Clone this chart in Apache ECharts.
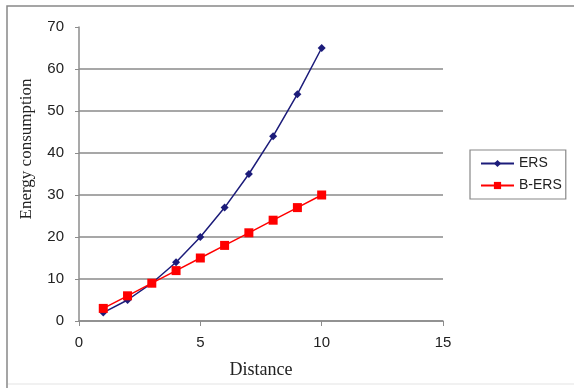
<!DOCTYPE html>
<html>
<head>
<meta charset="utf-8">
<script src="https://cdn.jsdelivr.net/npm/echarts@6/dist/echarts.min.js"></script>
<style>
  html, body { margin: 0; padding: 0; background: #fff; }
  #chart { width: 574px; height: 388px; }
</style>
</head>
<body>
<div id="chart"></div>
<script>
// distance values on the x axis
const distance = [1, 2, 3, 4, 5, 6, 7, 8, 9, 10]
const ersValues = [2, 5, 9, 14, 20, 27, 35, 44, 54, 65]
const bersValues = [3, 6, 9, 12, 15, 18, 21, 24, 27, 30]

const chart = echarts.init(document.getElementById('chart'))

const axisGray = '#8c8c8c'
const tickFont = { fontFamily: 'Liberation Sans, Arial', fontSize: 15, color: '#222' }

chart.setOption({
  animation: false,
  backgroundColor: '#fff',
  graphic: [
    {
      type: 'rect',
      shape: { x: 7, y: 6, width: 600, height: 400 },
      style: { fill: 'none', stroke: '#888', lineWidth: 1.5 },
      silent: true
    },
    {
      type: 'line',
      shape: { x1: 8, y1: 384, x2: 574, y2: 384 },
      style: { stroke: '#ececec', lineWidth: 1.5 },
      silent: true
    }
  ],
  grid: { left: 79, right: 131, top: 27, bottom: 67, containLabel: false },
  legend: {
    orient: 'vertical',
    left: 470,
    top: 150,
    padding: [5, 4, 5, 10],
    itemGap: 5,
    itemWidth: 33,
    itemHeight: 9,
    borderColor: '#888',
    borderWidth: 1.2,
    backgroundColor: '#fff',
    textStyle: { fontFamily: 'Liberation Sans, Arial', fontSize: 14, color: '#222', lineHeight: 17 },
    data: ['ERS', 'B-ERS']
  },
  xAxis: {
    type: 'value',
    min: 0,
    max: 15,
    interval: 5,
    name: 'Distance',
    nameLocation: 'middle',
    nameGap: 40,
    nameTextStyle: { fontFamily: 'Liberation Serif, Times New Roman', fontSize: 18, color: '#222' },
    axisLine: { onZero: false, lineStyle: { color: axisGray, width: 1.5 } },
    axisTick: { show: true, length: 5, lineStyle: { color: axisGray } },
    axisLabel: Object.assign({ margin: 14 }, tickFont),
    splitLine: { show: false }
  },
  yAxis: {
    type: 'value',
    min: 0,
    max: 70,
    interval: 10,
    name: 'Energy consumption',
    nameLocation: 'middle',
    nameGap: 44,
    nameTextStyle: {
      fontFamily: 'Liberation Serif, Times New Roman',
      fontSize: 17,
      color: '#222',
      padding: [0, 0, 0, 50]
    },
    axisLine: { show: true, lineStyle: { color: axisGray, width: 1.5 } },
    axisTick: { show: true, length: 4, lineStyle: { color: axisGray } },
    axisLabel: Object.assign({ margin: 15 }, tickFont),
    splitLine: {
      show: true,
      lineStyle: { color: '#8a8a8a', width: 1.5 },
      showMaxLine: false
    }
  },
  series: [
    {
      name: 'ERS',
      type: 'line',
      data: distance.map((d, i) => [d, ersValues[i]]),
      symbol: 'diamond',
      symbolSize: 8,
      color: '#1c1c7a',
      lineStyle: { width: 1.5, color: '#1c1c7a' },
      itemStyle: { color: '#1c1c7a' }
    },
    {
      name: 'B-ERS',
      type: 'line',
      data: distance.map((d, i) => [d, bersValues[i]]),
      symbol: 'rect',
      symbolSize: 9,
      color: '#ff0000',
      lineStyle: { width: 1.5, color: '#ff0000' },
      itemStyle: { color: '#ff0000' }
    }
  ]
})
</script>
</body>
</html>
